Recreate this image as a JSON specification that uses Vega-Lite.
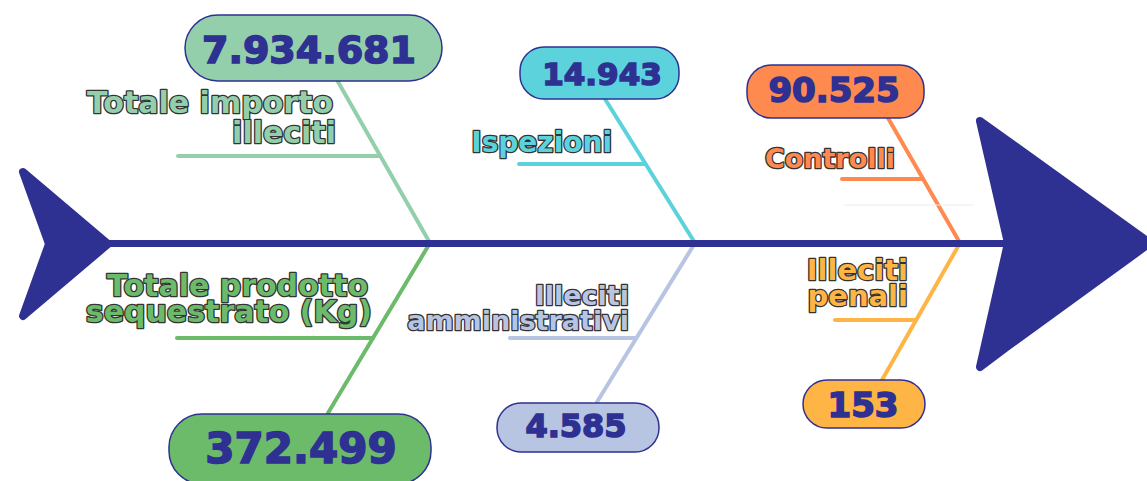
{
  "$schema": "https://vega.github.io/schema/vega-lite/v6.json",
  "width": 1147,
  "height": 481,
  "padding": 0,
  "autosize": {"type": "fit", "contains": "padding"},
  "background": "#ffffff",
  "config": {"view": {"stroke": null}},
  "encoding": {
    "x": {"field": "x", "type": "quantitative", "scale": {"domain": [0, 1147], "nice": false, "zero": false}, "axis": null},
    "y": {"field": "y", "type": "quantitative", "scale": {"domain": [0, 481], "reverse": true, "nice": false, "zero": false}, "axis": null}
  },
  "datasets": {
    "labels": [
      {"label": "Totale importo", "x": 333, "y": 113, "size": 30, "fill": "#94cfab"},
      {"label": "illeciti", "x": 336, "y": 143, "size": 30, "fill": "#94cfab"},
      {"label": "Totale prodotto", "x": 368, "y": 296, "size": 30, "fill": "#6cbb6b"},
      {"label": "sequestrato (Kg)", "x": 372, "y": 322, "size": 30, "fill": "#6cbb6b"},
      {"label": "Ispezioni", "x": 612, "y": 152, "size": 28, "fill": "#5cd3dc"},
      {"label": "Illeciti", "x": 629, "y": 305, "size": 27, "fill": "#b7c4e2"},
      {"label": "amministrativi", "x": 629, "y": 330, "size": 27, "fill": "#b7c4e2"},
      {"label": "Controlli", "x": 895, "y": 168, "size": 27, "fill": "#ff8a50"},
      {"label": "Illeciti", "x": 908, "y": 280, "size": 29, "fill": "#ffb446"},
      {"label": "penali", "x": 908, "y": 306, "size": 29, "fill": "#ffb446"}
    ]
  },
  "layer": [
    {
      "data": {"values": [
        {"x": 430, "y": 243, "x2": 337, "y2": 80, "c": "#94cfab", "w": 4},
        {"x": 178, "y": 156, "x2": 380, "y2": 156, "c": "#94cfab", "w": 4},
        {"x": 430, "y": 243, "x2": 328, "y2": 413, "c": "#6cbb6b", "w": 4},
        {"x": 177, "y": 338, "x2": 373, "y2": 338, "c": "#6cbb6b", "w": 4},
        {"x": 695, "y": 243, "x2": 605, "y2": 99, "c": "#5cd3dc", "w": 4},
        {"x": 519, "y": 164, "x2": 645, "y2": 164, "c": "#5cd3dc", "w": 4},
        {"x": 695, "y": 243, "x2": 597, "y2": 402, "c": "#b7c4e2", "w": 4},
        {"x": 510, "y": 338, "x2": 635, "y2": 338, "c": "#b7c4e2", "w": 4},
        {"x": 960, "y": 243, "x2": 888, "y2": 118, "c": "#ff8a50", "w": 4},
        {"x": 842, "y": 179, "x2": 923, "y2": 179, "c": "#ff8a50", "w": 4},
        {"x": 960, "y": 243, "x2": 882, "y2": 380, "c": "#ffb446", "w": 4},
        {"x": 835, "y": 320, "x2": 916, "y2": 320, "c": "#ffb446", "w": 4},
        {"x": 845, "y": 205, "x2": 973, "y2": 205, "c": "#ececec", "w": 1}
      ]},
      "mark": {"type": "rule", "strokeCap": "round"},
      "encoding": {
        "x2": {"field": "x2"},
        "y2": {"field": "y2"},
        "color": {"field": "c", "type": "nominal", "scale": null},
        "strokeWidth": {"field": "w", "type": "quantitative", "scale": null}
      }
    },
    {
      "data": {"values": [{"x": 108, "y": 243.5, "x2": 1005}]},
      "mark": {"type": "rule", "color": "#2e3192", "strokeWidth": 7},
      "encoding": {"x2": {"field": "x2"}}
    },
    {
      "data": {"values": [
        {"part": "tail-up", "x": 23, "y": 172, "y2": 172},
        {"part": "tail-up", "x": 49, "y": 194, "y2": 244},
        {"part": "tail-up", "x": 108, "y": 244, "y2": 244},
        {"part": "tail-low", "x": 23, "y": 316, "y2": 316},
        {"part": "tail-low", "x": 49, "y": 244, "y2": 294},
        {"part": "tail-low", "x": 108, "y": 244, "y2": 244},
        {"part": "head-up", "x": 980, "y": 121, "y2": 121},
        {"part": "head-up", "x": 1008, "y": 141, "y2": 243},
        {"part": "head-up", "x": 1150, "y": 243, "y2": 243},
        {"part": "head-low", "x": 980, "y": 367, "y2": 367},
        {"part": "head-low", "x": 1008, "y": 243, "y2": 346},
        {"part": "head-low", "x": 1150, "y": 243, "y2": 243}
      ]},
      "mark": {"type": "area", "color": "#2e3192", "stroke": "#2e3192", "strokeWidth": 8, "strokeJoin": "round", "clip": true},
      "encoding": {
        "y2": {"field": "y2"},
        "detail": {"field": "part", "type": "nominal"}
      }
    },
    {
      "data": {"values": [
        {"x": 185, "x2": 442, "y": 15, "y2": 81, "fill": "#94cfab"},
        {"x": 169, "x2": 431, "y": 414, "y2": 484, "fill": "#6cbb6b"}
      ]},
      "mark": {"type": "rect", "cornerRadius": 33, "stroke": "#2e3192", "strokeWidth": 1.5, "clip": true},
      "encoding": {
        "x2": {"field": "x2"},
        "y2": {"field": "y2"},
        "fill": {"field": "fill", "type": "nominal", "scale": null}
      }
    },
    {
      "data": {"values": [
        {"x": 520, "x2": 679, "y": 47, "y2": 99, "fill": "#5cd3dc"},
        {"x": 497, "x2": 659, "y": 403, "y2": 452, "fill": "#b7c4e2"},
        {"x": 747, "x2": 924, "y": 65, "y2": 118, "fill": "#ff8a50"},
        {"x": 803, "x2": 925, "y": 380, "y2": 428, "fill": "#ffb446"}
      ]},
      "mark": {"type": "rect", "cornerRadius": 24, "stroke": "#2e3192", "strokeWidth": 1.5},
      "encoding": {
        "x2": {"field": "x2"},
        "y2": {"field": "y2"},
        "fill": {"field": "fill", "type": "nominal", "scale": null}
      }
    },
    {
      "data": {"values": [
        {"value": "7.934.681", "x": 309, "y": 63, "size": 38},
        {"value": "372.499", "x": 301, "y": 463, "size": 42},
        {"value": "14.943", "x": 602, "y": 85, "size": 31},
        {"value": "4.585", "x": 576, "y": 437, "size": 32},
        {"value": "90.525", "x": 834, "y": 102, "size": 34},
        {"value": "153", "x": 863, "y": 417, "size": 34}
      ]},
      "mark": {"type": "text", "font": "DejaVu Sans", "fontWeight": "bold", "align": "center", "baseline": "alphabetic", "color": "#2e3192", "stroke": "#2e3192", "strokeWidth": 1.6},
      "encoding": {
        "text": {"field": "value"},
        "size": {"field": "size", "type": "quantitative", "scale": null}
      }
    },
    {
      "data": {"name": "labels"},
      "mark": {"type": "text", "font": "DejaVu Sans", "fontWeight": "bold", "align": "right", "baseline": "alphabetic", "fill": "#333333", "stroke": "#333333", "strokeWidth": 2.6, "strokeJoin": "round"},
      "encoding": {
        "text": {"field": "label"},
        "size": {"field": "size", "type": "quantitative", "scale": null}
      }
    },
    {
      "data": {"name": "labels"},
      "mark": {"type": "text", "font": "DejaVu Sans", "fontWeight": "bold", "align": "right", "baseline": "alphabetic"},
      "encoding": {
        "text": {"field": "label"},
        "size": {"field": "size", "type": "quantitative", "scale": null},
        "fill": {"field": "fill", "type": "nominal", "scale": null}
      }
    }
  ]
}
